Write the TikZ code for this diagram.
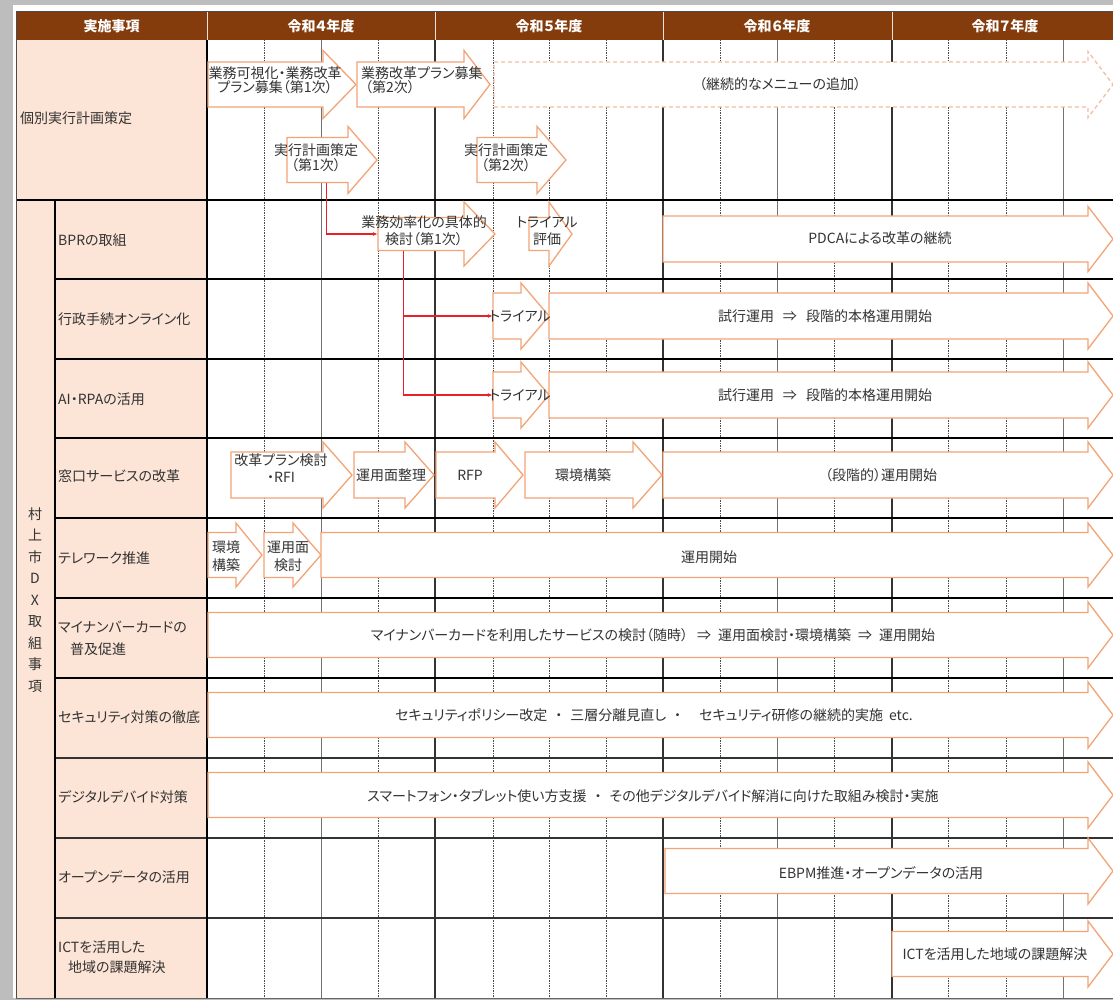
\documentclass[tikz,border=0pt]{standalone}
\usepackage{fontspec}
\setmainfont{Noto Sans CJK JP}[RawFeature=+palt]
\usetikzlibrary{arrows.meta}
\definecolor{hdr}{HTML}{843C0C}
\definecolor{peach}{HTML}{FCE4D6}
\definecolor{arw}{HTML}{F2A477}
\definecolor{arwd}{HTML}{F5BCA5}
\definecolor{txt}{HTML}{333333}
\definecolor{redc}{HTML}{E8202A}
\definecolor{bgg}{HTML}{BDBDBD}
% #1 style, #2 name, #3 x1, #4 x2 (head start), #5 tip x, #6 y centre, #7 body half height, #8 head half height
\newcommand{\blockarrow}[8]{%
  \draw[#1] (#3,#6-#7) -- (#4,#6-#7) -- (#4,#6-#8) -- (#5,#6) -- (#4,#6+#8) -- (#4,#6+#7) -- (#3,#6+#7) -- cycle;
  \node[inner sep=0pt, minimum width={(#4)-(#3)}, minimum height={2*(#7)}] (#2) at ({((#3)+(#4))/2},#6) {};
}
\begin{document}
\begin{tikzpicture}[x=1pt,y=-1pt,
  abox/.style={draw=arw, fill=white, line width=1.3pt, line join=miter},
  adash/.style={draw=arwd, fill=white, line width=1.3pt, dash pattern=on 4pt off 3pt},
  atext/.style={text=txt, font=\fontsize{14}{15}\selectfont, inner sep=0pt, align=center},
  lab/.style={anchor=west, text=txt, font=\fontsize{14}{20}\selectfont, inner sep=0pt, align=left},
  hd/.style={text=white, font=\fontsize{14}{16}\selectfont\bfseries, inner sep=0pt},
  gsolid/.style={draw=black!80, line width=1.4pt},
  gmid/.style={draw=black!55, line width=1pt},
  gdash/.style={draw=black!70, line width=0.9pt, dash pattern=on 1.5pt off 1pt},
  rowk/.style={draw=black, line width=1.8pt},
  rowl/.style={draw=black!80, line width=1.2pt},
  redline/.style={draw=redc, line width=1.1pt, -{Latex[length=5pt,width=4pt]}},
]
\useasboundingbox (0,0) rectangle (1113,1000);
% background and frame
\fill[bgg] (0,0) rectangle (1113,1000);
\fill[white] (13,5) rectangle (1113,998);
\fill[white] (16,12) rectangle (1113,998);
% label areas
\fill[peach] (16,40) rectangle (207,200);
\fill[peach] (16,200) rectangle (207,998);
% header
\fill[hdr] (16,12) rectangle (1113,40);
\foreach \x in {207,435,663,892} \draw[white!85!hdr, line width=0.8pt] (\x,12) -- (\x,40);
\node[hd] (h0) at (111.5,26) {実施事項};
\node[hd] (h4) at (321,26) {令和４年度};
\node[hd] (h5) at (549,26) {令和５年度};
\node[hd] (h6) at (777,26) {令和６年度};
\node[hd] (h7) at (1005,26) {令和７年度};
% grid
\foreach \x in {264,378,493,549,606,720,834,948,1006} \draw[gdash] (\x,40) -- (\x,998);
\foreach \x in {321,777,1063} \draw[gmid] (\x,40) -- (\x,998);
\foreach \x in {435,663,892} \draw[gsolid] (\x,40) -- (\x,998);
\draw[rowk] (16,200) -- (1113,200);
\foreach \y in {279,359,438,518,598,678} \draw[rowk] (55,\y) -- (1113,\y);
\foreach \y in {758,838,918} \draw[rowl] (55,\y) -- (1113,\y);
\draw[black, line width=1.8pt] (207,40) -- (207,998);
\draw[black, line width=1.8pt] (55,200) -- (55,998);
\draw[black!70, line width=1pt] (16,998) -- (16,12) -- (1113,12);
\draw[black!60, line width=1pt] (16,998) -- (1113,998);
% labels
\node[lab] (l0) at (20,118) {個別実行計画策定};
\node[text=txt, font=\fontsize{14}{21.5}\selectfont, align=center, inner sep=0pt] (ldx) at (35,600) {村\\上\\市\\D\\X\\取\\組\\事\\項};
\node[lab] (l1) at (58,240) {BPRの取組};
\node[lab] (l2) at (58,319) {行政手続オンライン化};
\node[lab] (l3) at (58,399) {AI・RPAの活用};
\node[lab] (l4) at (58,476) {窓口サービスの改革};
\node[lab] (l5) at (58,558) {テレワーク推進};
\node[lab, font=\fontsize{14}{22}\selectfont] (l6) at (58,638) {マイナンバーカードの\\\hspace*{12pt}普及促進};
\node[lab] (l7) at (58,717) {セキュリティ対策の徹底};
\node[lab] (l8) at (58,797) {デジタルデバイド対策};
\node[lab] (l9) at (58,877) {オープンデータの活用};
\node[lab, font=\fontsize{14}{20}\selectfont] (l10) at (58,957) {ICTを活用した\\\hspace*{10pt}地域の課題解決};
% section 1 arrows
\blockarrow{abox}{A1}{208}{323}{356}{84.5}{22.5}{34}
\blockarrow{abox}{A2}{357}{464}{490}{84.5}{22.5}{34}
\blockarrow{adash}{A3}{494}{1088}{1113}{84.5}{22.5}{33}
\blockarrow{abox}{A4}{287}{348}{377}{160}{22.5}{33.5}
\blockarrow{abox}{A5}{477}{537}{566}{160}{22.5}{33.5}
\node[atext, font=\fontsize{14}{14}\selectfont] (tA1) at (275,80) {業務可視化・業務改革\\プラン募集（第1次）};
\node[atext, align=left, anchor=west, font=\fontsize{14}{14}\selectfont] (tA2) at (361,80) {業務改革プラン募集\\\hspace*{4pt}（第2次）};
\node[atext] (tA3) at (780,84) {（継続的なメニューの追加）};
\node[atext, font=\fontsize{14}{15}\selectfont] (tA4) at (316,158) {実行計画策定\\（第1次）};
\node[atext, font=\fontsize{14}{15}\selectfont] (tA5) at (506,158) {実行計画策定\\（第2次）};
% BPR row
\blockarrow{abox}{A6}{378}{464}{495}{234}{16.5}{32}
\blockarrow{abox}{A7}{529}{549}{572}{234}{16.5}{32}
\blockarrow{abox}{P1}{663}{1088}{1113}{239}{23}{32.5}
\node[atext, font=\fontsize{14}{17}\selectfont] (tA6) at (424,231) {業務効率化の具体的\\検討（第1次）};
\node[atext, font=\fontsize{14}{17}\selectfont] (tA7) at (547,231) {トライアル\\評価};
\node[atext] (tP1) at (880,238) {PDCAによる改革の継続};
% online / AI rows
\blockarrow{abox}{T1}{493}{521}{549}{316}{23}{33}
\blockarrow{abox}{S1}{549}{1088}{1113}{316}{23}{33}
\blockarrow{abox}{T2}{493}{521}{549}{395}{23}{33}
\blockarrow{abox}{S2}{549}{1088}{1113}{395}{23}{33}
\node[atext] (tT1) at (520,316) {トライアル};
\node[atext] (tS1) at (825,316) {試行運用\hspace{9pt}⇒\hspace{9pt}段階的本格運用開始};
\node[atext] (tT2) at (520,395) {トライアル};
\node[atext] (tS2) at (825,395) {試行運用\hspace{9pt}⇒\hspace{9pt}段階的本格運用開始};
% red connectors
\draw[redline] (A4.south west) ++(40,0) |- (A6.west);
\draw[redline] (A6.south west) ++(26,0) |- (T1.west);
\draw[redline] (A6.south west) ++(26,0) |- (T2.west);
% window service row
\blockarrow{abox}{K1}{231}{323}{352}{475}{23}{33}
\blockarrow{abox}{K2}{354}{405}{434}{475}{23}{33}
\blockarrow{abox}{K3}{436}{495}{523}{475}{23}{33}
\blockarrow{abox}{K4}{525}{633}{662}{475}{23}{33}
\blockarrow{abox}{K5}{663}{1088}{1113}{475}{23}{33}
\node[atext, font=\fontsize{14}{17}\selectfont] (tK1) at (281,468) {改革プラン検討\\・RFI};
\node[atext] (tK2) at (391,475) {運用面整理};
\node[atext] (tK3) at (470,475) {RFP};
\node[atext] (tK4) at (583,475) {環境構築};
\node[atext] (tK5) at (881,475) {（段階的）運用開始};
% telework row
\blockarrow{abox}{W1}{208}{236}{262}{555}{22.5}{32}
\blockarrow{abox}{W2}{264}{293}{321}{555}{22.5}{32}
\blockarrow{abox}{W3}{321}{1088}{1113}{555}{22.5}{32}
\node[atext, font=\fontsize{14}{18}\selectfont] (tW1) at (226,556) {環境\\構築};
\node[atext, font=\fontsize{14}{18}\selectfont] (tW2) at (288,556) {運用面\\検討};
\node[atext] (tW3) at (709,557) {運用開始};
% remaining rows
\blockarrow{abox}{M1}{208}{1088}{1113}{635}{22.5}{33}
\node[atext] (tM1) at (653,635) {マイナンバーカードを利用したサービスの検討（随時）\hspace{9pt}⇒\hspace{7pt}運用面検討・環境構築\hspace{7pt}⇒\hspace{7pt}運用開始};
\blockarrow{abox}{C1}{208}{1088}{1113}{715}{22.5}{33}
\node[atext] (tC1) at (654,715) {セキュリティポリシー改定\hspace{8pt}・\hspace{8pt}三層分離見直し\hspace{8pt}・\hspace{18pt}セキュリティ研修の継続的実施\hspace{6pt}etc.};
\blockarrow{abox}{D1}{208}{1088}{1113}{795}{22.5}{33}
\node[atext] (tD1) at (653,796) {スマートフォン・タブレット使い方支援\hspace{8pt}・\hspace{8pt}その他デジタルデバイド解消に向けた取組み検討・実施};
\blockarrow{abox}{O1}{665}{1088}{1113}{871}{22.5}{33}
\node[atext] (tO1) at (881,873) {EBPM推進・オープンデータの活用};
\blockarrow{abox}{I1}{892}{1088}{1113}{954}{22.5}{33}
\node[atext] (tI1) at (995,954) {ICTを活用した地域の課題解決};
\end{tikzpicture}
\end{document}
